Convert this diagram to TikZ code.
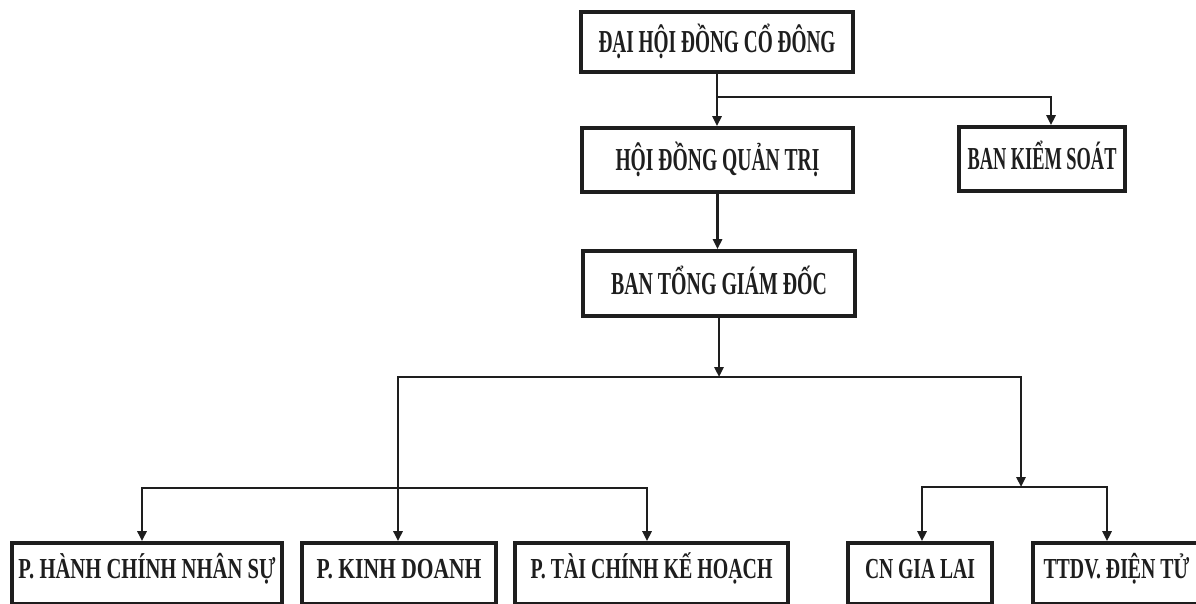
\documentclass[tikz,border=0pt]{standalone}
\usepackage{fontspec}
\setmainfont{Liberation Serif}
\usetikzlibrary{arrows.meta}
\definecolor{ink}{HTML}{1E1E1E}
\newcommand\boxtext[3]{\resizebox{#1}{\height}{\fontsize{#2}{#2}\selectfont\bfseries #3}}
\begin{document}
\begin{tikzpicture}[x=1pt,y=-1pt,
  box/.style={draw=ink,line width=3.6pt,inner sep=0pt,text=ink},
  topbox/.style={box,text height=21pt,text depth=0pt},
  botbox/.style={box,text height=19pt,text depth=9pt,minimum height=61pt},
  conn/.style={draw=ink,line width=2.8pt,-{Triangle[length=10pt,width=9pt]}},
  bus/.style={draw=ink,line width=2.8pt,line cap=rect}]
\fill[white] (0,0) rectangle (1196,603);
\useasboundingbox (0,0) rectangle (1196,603);

% top boxes
\node[topbox,minimum width=272pt,minimum height=60pt] (B1) at (717,42)
  {\boxtext{237pt}{32}{ĐẠI HỘI ĐỒNG CỔ ĐÔNG}};
\node[topbox,minimum width=271pt,minimum height=64pt] (HQ) at (717.5,160)
  {\boxtext{204pt}{32}{HỘI ĐỒNG QUẢN TRỊ}};
\node[topbox,minimum width=166pt,minimum height=64pt] (BKS) at (1042,159)
  {\boxtext{149pt}{32}{BAN KIỂM SOÁT}};
\node[topbox,minimum width=272pt,minimum height=65pt] (BT) at (719,283.5)
  {\boxtext{216pt}{32}{BAN TỔNG GIÁM ĐỐC}};

% bottom boxes
\node[botbox,minimum width=270pt] (HC) at (147,573.5)
  {\boxtext{257pt}{29}{P. HÀNH CHÍNH NHÂN SỰ}};
\node[botbox,minimum width=194pt] (KD) at (399,573.5)
  {\boxtext{165pt}{29}{P. KINH DOANH}};
\node[botbox,minimum width=273pt] (TC) at (651.5,573.5)
  {\boxtext{242pt}{29}{P. TÀI CHÍNH KẾ HOẠCH}};
\node[botbox,minimum width=144pt] (CN) at (920,573.5)
  {\boxtext{110pt}{29}{CN GIA LAI}};
\node[botbox,minimum width=167pt] (TT) at (1116.5,573.5)
  {\boxtext{146pt}{29}{TTDV. ĐIỆN TỬ}};

% connectors
\coordinate (j1) at (717,97);
\draw[conn] (B1.south) -- (B1.south |- HQ.north);
\draw[bus] (j1) -- (1051,97) coordinate (j1R);
\draw[conn] (j1R) -- (j1R |- BKS.north);
\draw[conn] (HQ.south) -- (HQ.south |- BT.north);

\coordinate (b1) at (719,377);
\coordinate (b1L) at (398,377);
\coordinate (b1R) at (1021,377);
\draw[conn] (BT.south) -- (b1);
\draw[bus] (b1L) -- (b1R);
\draw[conn] (b1L) -- (b1L |- KD.north);

\coordinate (b2L) at (142,488);
\coordinate (b2R) at (647,488);
\draw[bus] (b2L) -- (b2R);
\draw[conn] (b2L) -- (b2L |- HC.north);
\draw[conn] (b2R) -- (b2R |- TC.north);

\coordinate (b3) at (1021,487);
\coordinate (b3L) at (922,487);
\coordinate (b3R) at (1107,487);
\draw[conn] (b1R) -- (b3);
\draw[bus] (b3L) -- (b3R);
\draw[conn] (b3L) -- (b3L |- CN.north);
\draw[conn] (b3R) -- (b3R |- TT.north);
\end{tikzpicture}
\end{document}
